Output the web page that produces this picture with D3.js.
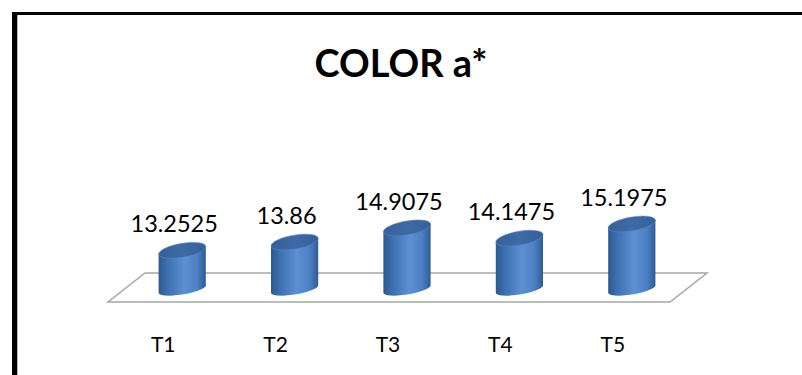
<!DOCTYPE html>
<html>
<head>
<meta charset="utf-8">
<script src="https://cdnjs.cloudflare.com/ajax/libs/d3/7.8.5/d3.min.js"></script>
<style>
    body { margin: 0; background: #fff; }
    text { font-family: Lato, "Open Sans", sans-serif; }
</style>
</head>
<body>
<div id="colorChart"></div>
<script>
var categories = ["T1", "T2", "T3", "T4", "T5"];
var values = [13.2525, 13.86, 14.9075, 14.1475, 15.1975];
var chartTitle = "COLOR a*";

var width = 802, height = 375;

var svg = d3.select("#colorChart").append("svg")
    .attr("width", width)
    .attr("height", height);

// frame of the chart area (only left and top edge are in view)
svg.append("rect").attr("x", 12).attr("y", 12).attr("width", 790).attr("height", 3).style("fill", "#000");
svg.append("rect").attr("x", 12).attr("y", 12).attr("width", 5).attr("height", 363).style("fill", "#000");
svg.append("rect").attr("x", 17).attr("y", 15).attr("width", 1).attr("height", 360).style("fill", "#bbb");

svg.append("text")
    .attr("x", 401)
    .attr("y", 77)
    .attr("text-anchor", "middle")
    .style("font-size", "38px")
    .style("font-weight", "bold")
    .text(chartTitle);

var defs = svg.append("defs");
var bodyGrad = defs.append("linearGradient").attr("id", "cylBody");
bodyGrad.append("stop").attr("offset", "0%").attr("stop-color", "#2b5890");
bodyGrad.append("stop").attr("offset", "18%").attr("stop-color", "#3c6fae");
bodyGrad.append("stop").attr("offset", "55%").attr("stop-color", "#5b90d4");
bodyGrad.append("stop").attr("offset", "82%").attr("stop-color", "#4d80c2");
bodyGrad.append("stop").attr("offset", "100%").attr("stop-color", "#2e5b94");

var topGrad = defs.append("linearGradient").attr("id", "cylTop")
    .attr("x1", "0%").attr("y1", "0%").attr("x2", "100%").attr("y2", "0%");
topGrad.append("stop").attr("offset", "0%").attr("stop-color", "#355f98");
topGrad.append("stop").attr("offset", "50%").attr("stop-color", "#3e6ba6");
topGrad.append("stop").attr("offset", "100%").attr("stop-color", "#34609a");

// floor of the 3d plot
var floorBack = 273, floorFront = 302;
var floor = [[145, floorBack], [707, floorBack], [670, floorFront], [108, floorFront]];
svg.append("path")
    .attr("d", d3.line()(floor) + "Z")
    .style("fill", "#fff")
    .style("stroke", "#a6a6a6")
    .style("stroke-width", 1.5);

// cylinders sit between back and front, labels follow the front edge
var x = d3.scaleBand()
    .domain(categories)
    .range([126, 688])
    .paddingInner(0.58)
    .paddingOuter(0.29);

var xLabel = d3.scaleBand()
    .domain(categories)
    .range([107, 669]);

var y = d3.scaleLinear()
    .domain([10.4, 15.2])
    .range([289, 224]);

var rx = x.bandwidth() / 2, ry = 7;
var tilt = -9;

var cyl = svg.selectAll(".cyl")
    .data(values)
    .enter()
    .append("g")
    .attr("class", "cyl")
    .attr("transform", function (d, i) {
        return "translate(" + (x(categories[i]) + rx) + ",0) skewY(" + tilt + ")";
    });

// body: side walls plus the front half of the base ellipse
cyl.append("path")
    .attr("d", function (d) {
        var yt = y(d), yb = y.range()[0];
        return "M" + (-rx) + "," + yt +
            "L" + (-rx) + "," + yb +
            "A" + rx + "," + (ry * 0.8) + " 0 0 0 " + rx + "," + yb +
            "L" + rx + "," + yt + "Z";
    })
    .style("fill", "url(#cylBody)");

cyl.append("ellipse")
    .attr("cx", 0)
    .attr("cy", function (d) { return y(d); })
    .attr("rx", rx)
    .attr("ry", ry)
    .style("fill", "url(#cylTop)")
    .style("stroke", "#5a88c6")
    .style("stroke-width", 0.6);

// value labels
svg.selectAll(".label")
    .data(values)
    .enter()
    .append("text")
    .attr("class", "label")
    .attr("x", function (d, i) { return x(categories[i]) + rx - 8; })
    .attr("y", function (d) { return y(d) - 18; })
    .attr("text-anchor", "middle")
    .style("font-size", "23.5px")
    .style("fill", "#000")
    .text(function (d) { return d; });

var xAxis = d3.axisBottom(xLabel).tickSize(0).tickPadding(0);
var gx = svg.append("g")
    .attr("transform", "translate(0,337)")
    .call(xAxis);
gx.select(".domain").remove();
gx.selectAll("text")
    .style("font-family", "Lato, 'Open Sans', sans-serif")
    .style("font-size", "21px")
    .style("fill", "#000");
</script>
</body>
</html>
